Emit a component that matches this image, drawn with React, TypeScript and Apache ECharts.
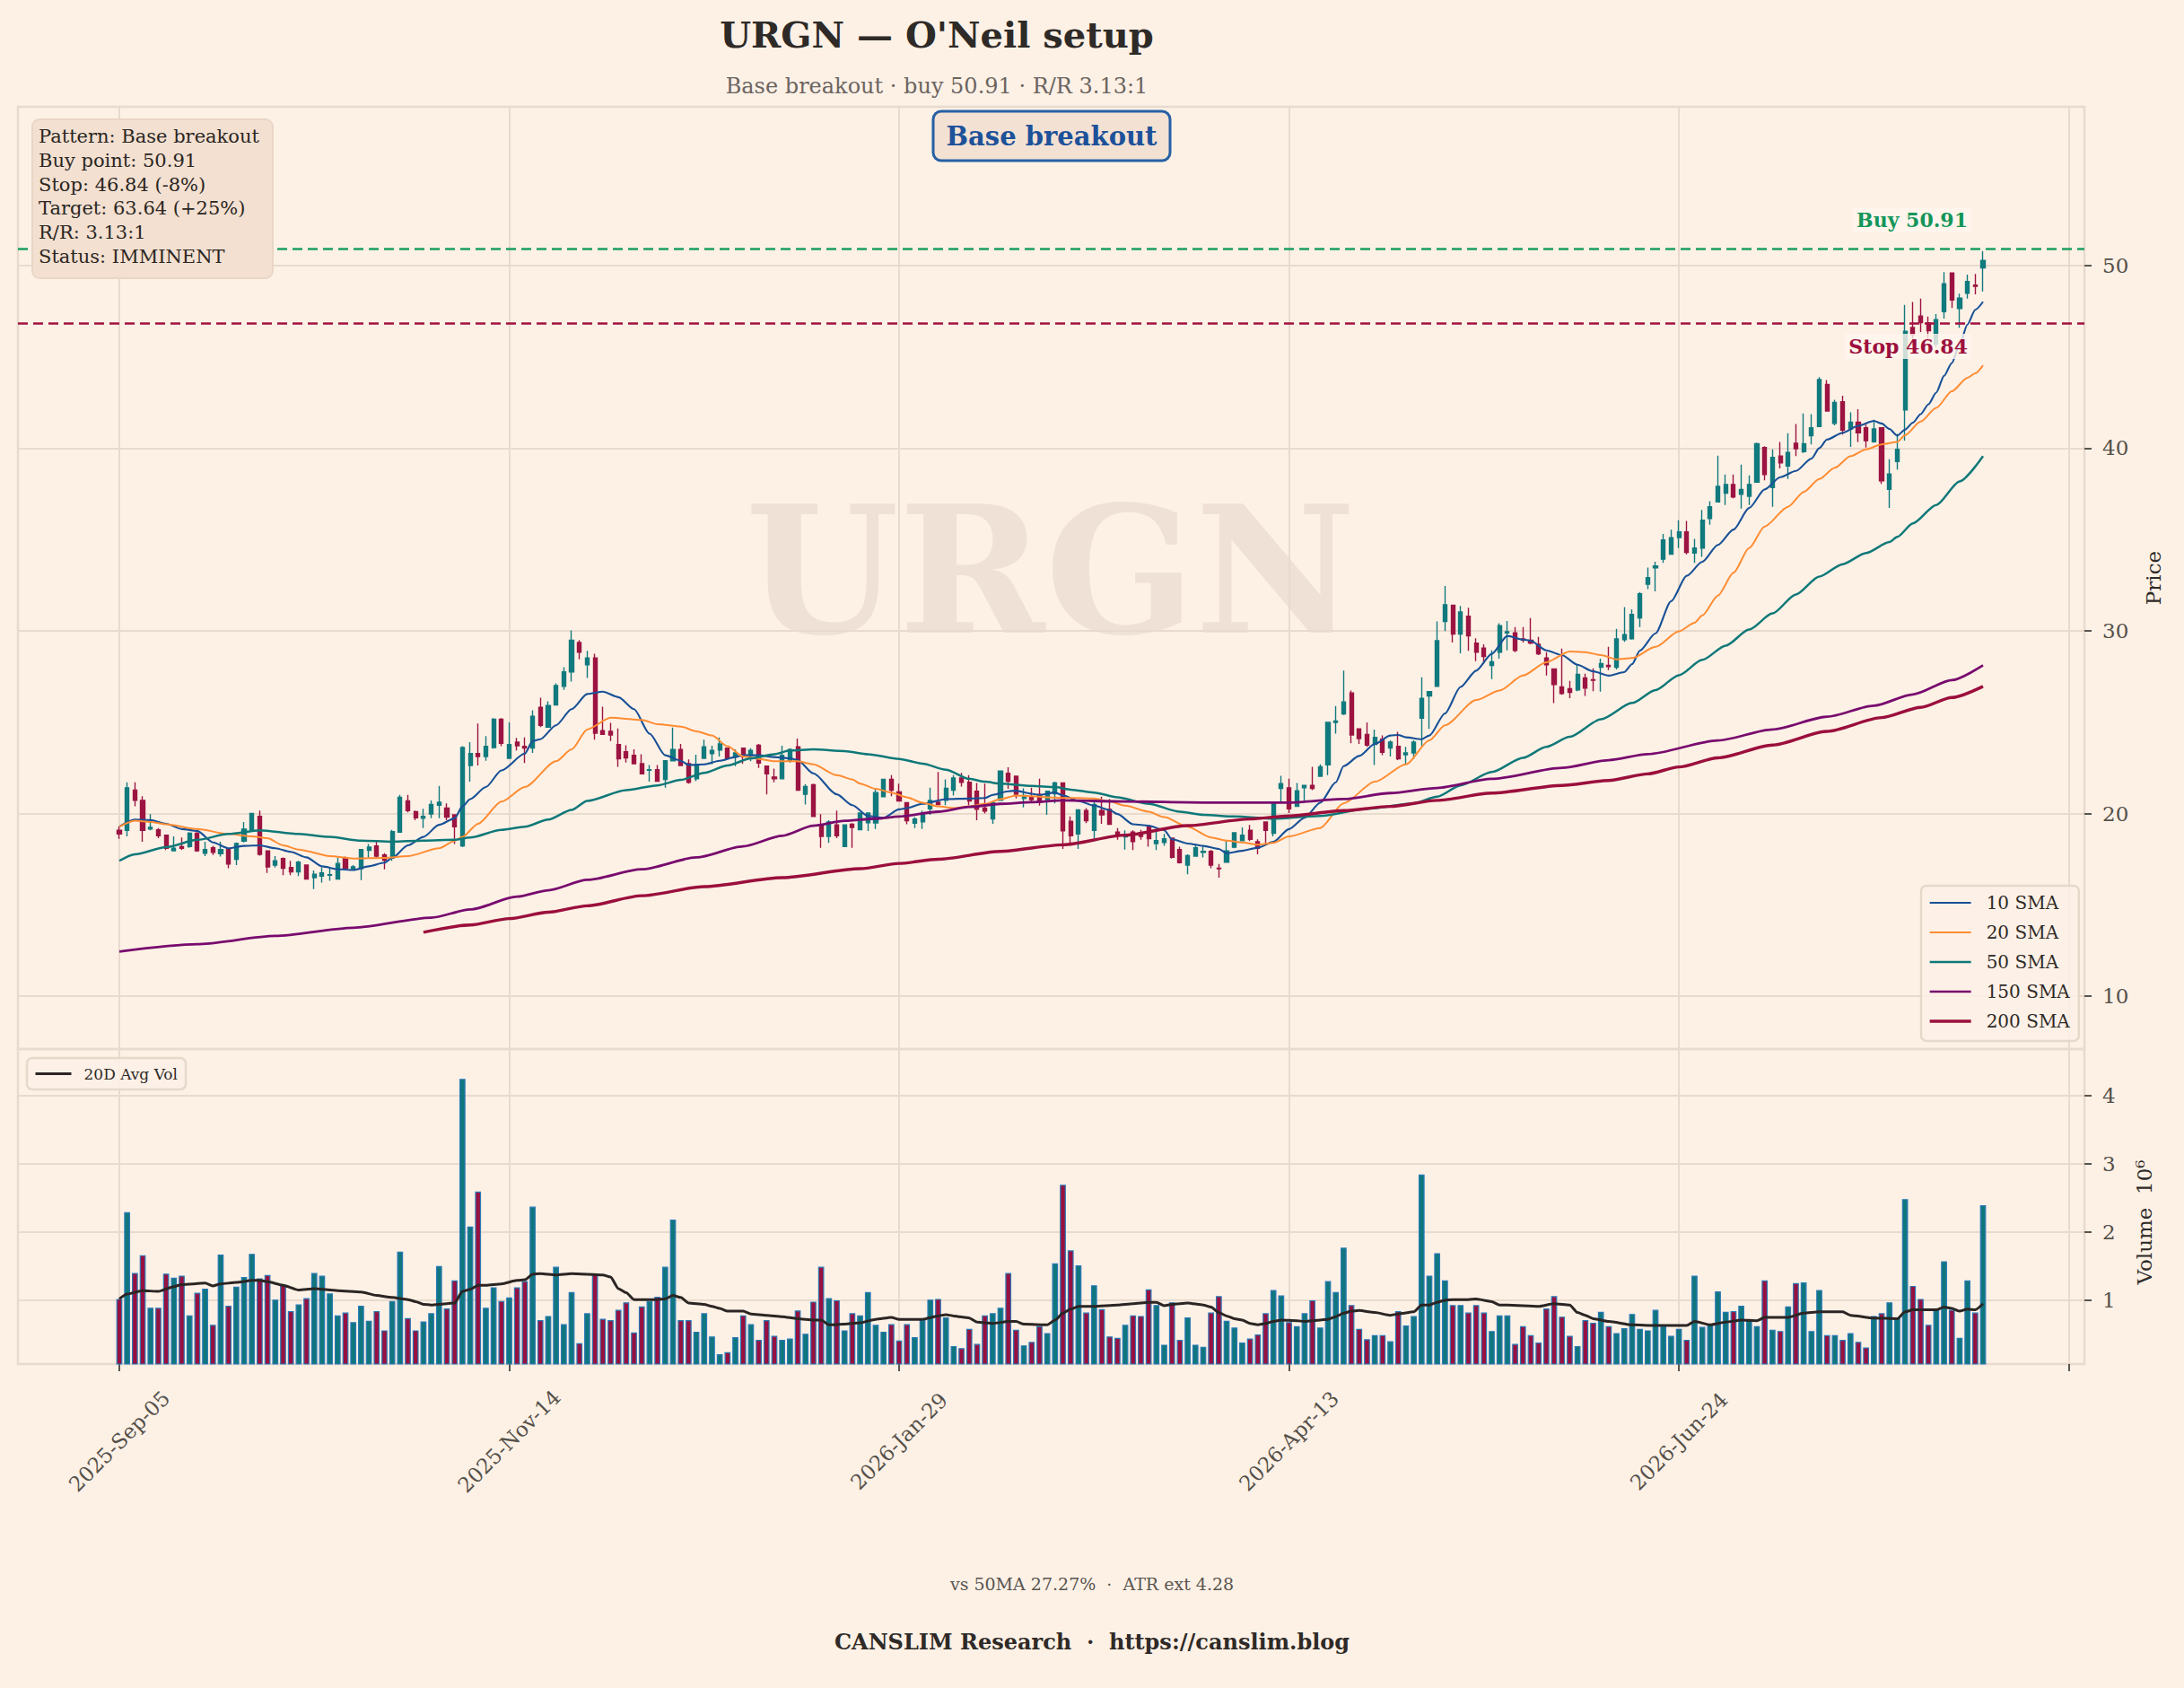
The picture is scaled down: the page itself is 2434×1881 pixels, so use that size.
import React, { useEffect, useRef } from 'react';
import * as echarts from 'echarts';

// ---------- data ----------
const TICK_BARS = [0, 50, 100, 150, 200];
const TICK_LABELS = ['2025-Sep-05', '2025-Nov-14', '2026-Jan-29', '2026-Apr-13', '2026-Jun-24'];

// one row per trading day: [open, high, low, close]
const OHLC: number[][] = [
  [19.08, 19.28, 18.62, 18.88], [19.08, 21.71, 18.75, 21.41], [21.28, 21.71, 20.39, 20.72], [20.72, 20.95, 18.46, 19.08], [19.15, 19.97, 19.08, 19.24],
  [19.11, 19.21, 18.65, 18.78], [18.82, 18.85, 18.0, 18.1], [17.96, 18.75, 17.93, 18.1], [18.19, 18.69, 18.0, 18.1], [18.19, 18.98, 18.13, 18.92],
  [18.92, 18.98, 17.9, 17.96], [17.83, 18.46, 17.67, 18.03], [18.13, 18.23, 17.73, 17.87], [17.8, 18.46, 17.64, 18.03], [18.03, 18.1, 17.01, 17.24],
  [17.5, 18.42, 17.18, 18.36], [18.49, 19.54, 18.42, 19.15], [19.11, 20.03, 19.08, 20.0], [19.84, 20.16, 17.7, 17.77], [17.96, 17.96, 16.75, 17.08],
  [17.18, 17.67, 17.04, 17.41], [17.54, 17.6, 16.62, 17.01], [17.04, 17.41, 16.62, 16.81], [16.81, 17.41, 16.58, 17.34], [17.18, 17.21, 16.39, 16.42],
  [16.49, 16.88, 15.86, 16.68], [16.58, 17.04, 16.22, 16.75], [16.62, 17.01, 16.32, 16.65], [16.42, 17.57, 16.42, 17.27], [17.57, 17.64, 16.98, 17.01],
  [16.98, 17.18, 16.91, 17.08], [16.98, 18.03, 16.36, 18.03], [17.99, 18.33, 17.57, 18.16], [18.23, 18.49, 17.6, 17.67], [17.73, 17.83, 16.95, 17.44],
  [17.57, 19.11, 17.41, 19.01], [18.98, 21.02, 18.95, 20.89], [20.69, 21.02, 20.07, 20.16], [20.1, 20.16, 19.64, 19.77], [19.74, 20.26, 19.21, 19.84],
  [19.97, 20.72, 19.74, 20.49], [20.46, 21.51, 19.74, 20.62], [20.3, 20.56, 19.64, 19.8], [19.93, 19.97, 18.33, 19.28], [18.23, 23.68, 18.16, 23.61],
  [22.63, 23.91, 21.74, 23.28], [23.28, 24.93, 22.63, 23.12], [23.12, 24.24, 22.89, 23.68], [23.61, 25.22, 23.55, 25.16], [25.16, 25.22, 23.68, 23.84],
  [23.02, 24.99, 23.02, 23.78], [23.91, 24.14, 23.45, 23.71], [23.68, 24.17, 22.76, 23.58], [23.58, 25.65, 23.32, 25.32], [25.81, 26.34, 24.73, 24.83],
  [24.73, 26.14, 24.7, 25.91], [25.94, 27.13, 25.91, 27.0], [26.96, 28.01, 26.77, 27.75], [27.75, 30.02, 27.22, 29.49], [29.36, 29.49, 28.44, 28.83],
  [28.14, 28.9, 27.42, 28.51], [28.51, 28.74, 24.04, 24.4], [24.53, 25.85, 24.33, 24.33], [24.5, 24.96, 23.97, 24.3], [23.78, 24.66, 22.56, 22.99],
  [23.38, 23.74, 22.79, 23.05], [23.19, 23.51, 22.69, 22.73], [22.73, 23.25, 22.17, 22.17], [22.37, 22.66, 21.74, 22.4], [22.4, 22.66, 21.77, 21.77],
  [21.87, 22.92, 21.41, 22.89], [22.89, 24.7, 22.86, 23.51], [23.51, 23.81, 22.59, 22.63], [22.73, 22.96, 21.64, 21.71], [21.9, 23.22, 21.77, 22.66],
  [23.02, 24.04, 22.99, 23.65], [23.28, 23.71, 22.69, 23.45], [23.48, 24.17, 23.12, 23.81], [23.58, 23.61, 22.99, 23.02], [23.09, 23.51, 22.59, 23.32],
  [23.58, 23.61, 22.73, 23.12], [23.19, 23.58, 22.86, 23.45], [23.74, 23.81, 22.5, 22.76], [22.59, 22.63, 21.05, 22.17], [22.0, 22.46, 21.71, 21.9],
  [21.9, 23.71, 21.87, 23.19], [22.89, 23.58, 22.79, 23.51], [23.65, 24.1, 21.28, 21.28], [21.05, 21.61, 20.49, 21.48], [21.58, 21.64, 19.8, 19.84],
  [19.38, 19.97, 18.13, 18.75], [18.75, 19.64, 18.39, 19.54], [19.38, 20.16, 18.65, 18.78], [18.19, 19.41, 18.16, 19.38], [19.41, 19.47, 18.13, 19.24],
  [19.11, 20.07, 19.08, 20.03], [19.5, 20.07, 19.05, 20.03], [19.49, 21.33, 19.15, 21.15], [20.92, 21.9, 20.89, 21.87], [21.87, 22.1, 20.95, 21.28],
  [21.18, 21.64, 20.69, 20.69], [20.59, 20.62, 19.41, 19.61], [19.47, 19.8, 19.21, 19.7], [19.54, 20.16, 19.15, 19.97], [20.26, 21.41, 19.93, 20.72],
  [20.62, 22.27, 20.46, 20.49], [20.72, 21.87, 20.46, 21.38], [21.28, 22.1, 20.99, 21.94], [21.94, 22.23, 21.48, 21.71], [21.71, 22.1, 20.46, 20.69],
  [21.22, 21.67, 19.64, 20.23], [20.3, 21.64, 20.0, 20.13], [19.7, 20.62, 19.44, 20.59], [20.72, 22.36, 20.69, 22.33], [22.2, 22.53, 21.35, 21.77],
  [22.04, 22.07, 20.82, 21.05], [20.82, 21.38, 20.33, 20.99], [20.92, 21.41, 20.66, 20.76], [21.05, 21.9, 20.43, 20.62], [20.76, 21.25, 19.93, 21.22],
  [21.08, 21.74, 20.56, 21.67], [21.67, 21.71, 18.06, 19.05], [19.57, 19.84, 18.36, 18.78], [18.88, 20.23, 18.06, 20.2], [20.16, 20.3, 19.47, 19.61],
  [19.08, 20.69, 18.65, 20.49], [20.16, 20.92, 19.44, 19.93], [20.23, 20.79, 19.38, 19.41], [18.98, 19.21, 18.56, 18.78], [18.72, 19.08, 18.03, 18.82],
  [18.98, 19.08, 18.0, 18.46], [18.95, 19.11, 18.56, 18.75], [19.28, 19.34, 18.19, 18.62], [18.36, 19.01, 18.0, 18.52], [18.42, 18.88, 18.23, 18.62],
  [18.65, 18.69, 17.54, 17.6], [18.03, 18.19, 17.27, 17.31], [17.18, 17.77, 16.68, 17.7], [17.67, 18.33, 17.64, 18.13], [17.87, 18.19, 17.6, 17.93],
  [17.93, 18.0, 17.01, 17.18], [17.01, 17.24, 16.49, 16.98], [17.34, 18.49, 17.34, 17.96], [18.16, 18.98, 18.1, 18.95], [18.52, 19.24, 18.49, 18.82],
  [19.08, 19.38, 18.49, 18.59], [18.46, 18.59, 17.77, 18.1], [19.54, 19.57, 18.26, 19.08], [18.92, 20.56, 18.75, 20.53], [21.38, 22.07, 20.62, 21.64],
  [21.41, 21.9, 20.03, 20.26], [20.39, 21.67, 20.36, 21.25], [21.41, 21.58, 20.72, 21.54], [21.54, 22.56, 21.28, 21.38], [22.04, 22.69, 22.0, 22.56],
  [22.66, 24.99, 22.1, 24.99], [24.99, 25.88, 24.37, 25.06], [25.45, 27.82, 25.39, 26.11], [26.6, 26.73, 23.84, 24.3], [24.63, 24.63, 23.81, 24.1],
  [24.33, 24.99, 23.65, 23.74], [23.78, 24.6, 22.66, 24.17], [24.07, 24.27, 23.19, 23.35], [23.58, 24.01, 23.12, 23.91], [23.68, 24.47, 22.92, 22.99],
  [23.22, 23.65, 22.69, 23.32], [23.32, 24.01, 22.99, 23.91], [25.22, 27.45, 23.68, 26.31], [26.44, 26.7, 24.63, 26.67], [26.96, 30.51, 26.96, 29.46],
  [30.51, 32.45, 29.98, 31.43], [31.4, 31.4, 29.36, 29.82], [29.82, 31.36, 28.77, 31.03], [30.8, 31.26, 28.9, 29.72], [29.33, 29.59, 28.34, 28.83],
  [29.06, 29.26, 28.21, 28.6], [28.11, 28.93, 27.36, 28.31], [28.83, 30.41, 28.47, 30.28], [29.89, 30.54, 28.93, 29.95], [29.89, 30.21, 28.83, 28.93],
  [29.56, 30.21, 29.36, 29.49], [29.49, 30.7, 29.26, 29.33], [29.26, 29.66, 28.67, 28.74], [28.51, 28.83, 27.55, 28.14], [27.91, 27.95, 26.04, 27.06],
  [26.93, 29.03, 26.5, 26.57], [26.83, 27.26, 26.31, 26.63], [26.77, 28.14, 26.7, 27.62], [27.42, 27.65, 26.44, 26.86], [27.32, 27.95, 26.7, 27.29],
  [28.01, 28.47, 26.67, 28.21], [28.11, 29.13, 27.85, 28.04], [28.01, 30.11, 27.88, 29.56], [29.52, 31.3, 29.39, 29.79], [29.56, 31.17, 29.52, 30.9],
  [30.71, 32.12, 30.21, 32.02], [32.55, 33.46, 32.28, 32.91], [33.45, 33.78, 32.16, 33.55], [33.92, 35.3, 33.72, 34.97], [34.19, 35.54, 34.19, 35.1],
  [35.1, 36.05, 34.53, 35.41], [35.41, 36.01, 34.19, 34.29], [34.26, 35.03, 33.72, 34.53], [34.53, 36.62, 34.05, 36.05], [36.15, 37.09, 35.81, 36.79],
  [37.06, 39.59, 37.06, 37.91], [37.53, 38.55, 36.89, 38.01], [38.01, 38.55, 37.26, 37.33], [37.47, 39.09, 36.69, 37.74], [37.36, 38.51, 36.89, 38.01],
  [38.14, 40.3, 38.11, 40.24], [40.03, 40.1, 38.24, 38.55], [37.84, 39.93, 36.79, 39.49], [39.56, 40.34, 38.89, 39.19], [39.02, 40.81, 38.31, 39.76],
  [40.27, 41.32, 39.56, 39.97], [39.8, 41.89, 39.73, 40.24], [40.68, 41.86, 40.2, 41.11], [41.18, 43.89, 41.15, 43.75], [43.48, 43.72, 41.99, 42.03],
  [41.35, 42.64, 41.25, 42.5], [42.53, 42.87, 40.74, 40.98], [41.05, 41.96, 40.07, 41.42], [41.42, 42.13, 40.34, 40.84], [41.11, 41.28, 40.03, 40.41],
  [40.34, 41.55, 40.3, 41.05], [41.11, 41.15, 38.04, 38.21], [37.74, 39.39, 36.72, 38.58], [39.26, 40.78, 38.82, 39.93], [42.09, 47.84, 40.41, 46.39],
  [46.6, 48.0, 45.6, 46.2], [47.23, 48.18, 46.35, 46.86], [46.86, 47.2, 45.9, 46.42], [45.7, 47.33, 45.5, 47.03], [47.47, 49.63, 47.09, 48.99],
  [49.59, 49.59, 47.67, 48.11], [47.64, 48.45, 46.59, 48.21], [48.48, 49.49, 48.18, 49.12], [48.92, 49.53, 48.41, 48.85], [49.86, 50.78, 48.58, 50.27],
];

// daily volume, millions of shares
const VOLUME_M: number[] = [
  1.02, 2.29, 1.4, 1.66, 0.89, 0.89, 1.39, 1.33, 1.36, 0.78, 1.11, 1.17, 0.64, 1.67, 0.92, 1.2, 1.34, 1.68, 1.32, 1.37,
  1.01, 1.23, 0.84, 0.94, 1.03, 1.4, 1.36, 1.1, 0.78, 0.82, 0.68, 0.92, 0.7, 0.84, 0.56, 0.99, 1.71, 0.74, 0.56, 0.69,
  0.81, 1.5, 0.88, 1.29, 4.24, 2.08, 2.59, 0.89, 1.19, 0.99, 1.04, 1.19, 1.28, 2.37, 0.71, 0.77, 1.49, 0.65, 1.12, 0.37,
  0.81, 1.39, 0.73, 0.71, 0.86, 0.97, 0.53, 0.91, 0.99, 1.05, 1.49, 2.18, 0.71, 0.71, 0.54, 0.81, 0.47, 0.21, 0.24, 0.46,
  0.78, 0.65, 0.42, 0.71, 0.48, 0.42, 0.44, 0.85, 0.51, 0.98, 1.49, 1.03, 1.0, 0.56, 0.81, 0.78, 1.12, 0.64, 0.54, 0.65,
  0.41, 0.65, 0.46, 0.71, 1.01, 1.02, 0.75, 0.33, 0.3, 0.58, 0.36, 0.78, 0.81, 0.89, 1.4, 0.57, 0.34, 0.39, 0.62, 0.52,
  1.54, 2.69, 1.73, 1.51, 0.82, 1.22, 0.87, 0.47, 0.45, 0.64, 0.78, 0.77, 1.16, 0.93, 0.35, 0.97, 0.42, 0.75, 0.35, 0.32,
  0.82, 1.06, 0.7, 0.6, 0.38, 0.44, 0.5, 0.81, 1.15, 1.07, 0.68, 0.62, 0.81, 1.0, 0.6, 1.28, 1.12, 1.77, 0.93, 0.58,
  0.43, 0.49, 0.49, 0.4, 0.84, 0.63, 0.77, 2.84, 1.36, 1.69, 1.29, 0.93, 0.93, 0.82, 0.93, 0.82, 0.55, 0.78, 0.78, 0.36,
  0.62, 0.49, 0.38, 0.88, 1.06, 0.76, 0.48, 0.33, 0.71, 0.67, 0.83, 0.62, 0.52, 0.59, 0.8, 0.58, 0.56, 0.86, 0.62, 0.48,
  0.58, 0.42, 1.36, 0.61, 0.64, 1.13, 0.83, 0.84, 0.92, 0.71, 0.62, 1.29, 0.57, 0.55, 0.91, 1.25, 1.26, 0.55, 1.15, 0.49,
  0.49, 0.42, 0.52, 0.39, 0.31, 0.77, 0.81, 0.97, 0.74, 2.48, 1.21, 1.02, 0.64, 0.88, 1.57, 0.86, 0.45, 1.29, 0.82, 2.39,
];

// moving averages: [bar index, value]
const SMA10: number[][] = [
  [0, 19.28], [2, 19.67], [4, 19.64], [6, 19.44], [8, 19.15], [10, 19.05], [12, 18.42], [14, 18.1], [16, 18.23], [18, 18.26],
  [20, 18.1], [22, 17.9], [24, 17.6], [26, 17.11], [28, 16.96], [30, 16.91], [32, 17.11], [34, 17.31], [35, 17.57], [37, 18.26],
  [39, 18.72], [41, 19.38], [43, 19.74], [44, 20.39], [45, 20.79], [47, 21.45], [49, 22.36], [52, 23.28], [53, 23.97], [54, 24.07],
  [56, 24.83], [58, 25.71], [60, 26.54], [62, 26.67], [64, 26.37], [66, 25.71], [68, 24.37], [70, 23.19], [72, 22.89], [73, 22.66],
  [75, 22.69], [77, 22.89], [79, 23.09], [80, 23.19], [82, 23.19], [84, 23.09], [86, 23.02], [87, 22.92], [89, 22.2], [92, 21.05],
  [94, 20.46], [96, 19.87], [98, 19.77], [100, 20.23], [101, 20.3], [103, 20.53], [106, 20.79], [109, 20.82], [111, 20.85], [112, 21.02],
  [114, 21.22], [115, 21.25], [117, 21.08], [118, 21.02], [120, 21.15], [121, 20.99], [123, 20.69], [125, 20.43], [127, 20.2], [128, 19.97],
  [130, 19.41], [132, 19.34], [134, 19.08], [135, 18.59], [137, 18.36], [139, 18.23], [141, 18.06], [142, 17.83], [144, 17.96], [146, 18.13],
  [148, 18.45], [150, 19.15], [152, 19.77], [154, 20.59], [156, 21.71], [157, 22.59], [159, 23.15], [161, 23.81], [163, 24.27], [164, 24.3],
  [165, 24.17], [167, 24.07], [168, 24.27], [170, 25.48], [172, 26.93], [174, 27.82], [176, 28.74], [178, 29.72], [180, 29.52], [181, 29.46],
  [183, 28.93], [185, 28.67], [187, 28.14], [189, 27.78], [191, 27.55], [193, 27.74], [194, 28.18], [195, 28.92], [197, 29.86], [199, 31.62],
  [201, 33.01], [203, 33.78], [205, 34.7], [207, 35.54], [209, 36.72], [211, 37.74], [213, 38.41], [215, 38.75], [217, 39.43], [218, 40.0],
  [219, 40.47], [221, 40.84], [223, 41.22], [225, 41.49], [226, 41.35], [227, 41.05], [228, 40.68], [229, 41.01], [230, 41.39], [231, 41.86],
  [232, 42.4], [233, 43.04], [234, 43.95], [235, 44.66], [236, 45.68], [237, 46.76], [238, 47.57], [239, 48.01],
];
const SMA20: number[][] = [
  [0, 19.28], [2, 19.61], [4, 19.54], [6, 19.41], [10, 19.15], [14, 18.88], [17, 18.75], [19, 18.65], [21, 18.26], [23, 18.03],
  [27, 17.67], [30, 17.54], [34, 17.57], [37, 17.67], [41, 18.1], [43, 18.51], [44, 18.72], [46, 19.44], [49, 20.65], [52, 21.45],
  [56, 22.86], [58, 23.51], [60, 24.6], [63, 25.25], [67, 25.12], [69, 24.89], [72, 24.76], [74, 24.5], [76, 24.27], [78, 23.68],
  [80, 23.12], [82, 22.99], [84, 22.86], [87, 22.86], [89, 22.69], [92, 22.1], [94, 21.87], [95, 21.64], [97, 21.35], [99, 21.15],
  [101, 20.89], [103, 20.59], [105, 20.39], [107, 20.3], [109, 20.39], [111, 20.53], [113, 20.79], [115, 20.99], [117, 20.95], [119, 20.89],
  [121, 20.85], [123, 20.85], [125, 20.82], [127, 20.66], [129, 20.43], [132, 20.1], [134, 19.8], [137, 19.28], [140, 18.69], [142, 18.52],
  [144, 18.42], [146, 18.3], [148, 18.4], [150, 18.75], [154, 19.21], [157, 20.56], [161, 21.74], [165, 22.69], [168, 24.01], [170, 24.83],
  [174, 26.21], [177, 26.73], [180, 27.55], [183, 28.28], [186, 28.87], [188, 28.83], [190, 28.67], [192, 28.44], [194, 28.51], [197, 29.12],
  [200, 29.97], [202, 30.44], [203, 30.84], [205, 31.93], [207, 33.18], [209, 34.53], [211, 35.71], [214, 36.79], [216, 37.6], [218, 38.31],
  [220, 38.92], [222, 39.56], [224, 39.93], [226, 40.2], [228, 40.34], [229, 40.71], [231, 41.45], [233, 42.2], [235, 43.11], [237, 43.85],
  [238, 44.09], [239, 44.53],
];
const SMA50: number[][] = [
  [0, 17.41], [2, 17.77], [6, 18.16], [10, 18.56], [14, 18.88], [18, 19.08], [23, 18.88], [27, 18.72], [31, 18.52], [35, 18.46],
  [39, 18.52], [43, 18.56], [45, 18.69], [49, 19.11], [52, 19.28], [55, 19.67], [58, 20.2], [60, 20.69], [65, 21.28], [69, 21.54],
  [72, 21.84], [75, 22.23], [78, 22.63], [81, 23.02], [84, 23.25], [86, 23.45], [89, 23.51], [93, 23.42], [96, 23.25], [100, 22.99],
  [103, 22.73], [106, 22.4], [109, 21.9], [111, 21.74], [113, 21.64], [117, 21.51], [120, 21.45], [122, 21.31], [125, 21.15], [128, 20.89],
  [132, 20.53], [136, 20.1], [139, 19.93], [143, 19.84], [148, 19.72], [154, 19.87], [160, 20.26], [166, 20.56], [169, 20.92], [172, 21.54],
  [176, 22.27], [180, 23.05], [183, 23.65], [186, 24.2], [190, 25.16], [194, 26.05], [197, 26.76], [200, 27.57], [203, 28.41], [206, 29.19],
  [209, 30.07], [212, 30.95], [215, 31.99], [218, 32.97], [221, 33.65], [224, 34.26], [227, 34.86], [228, 35.14], [230, 35.88], [233, 36.89],
  [236, 38.18], [239, 39.56],
];
const SMA150: number[][] = [
  [0, 12.45], [10, 12.85], [20, 13.3], [30, 13.75], [40, 14.3], [45, 14.75], [51, 15.45], [55, 15.8], [60, 16.37], [67, 16.95],
  [74, 17.6], [80, 18.2], [85, 18.78], [89, 19.33], [93, 19.6], [97, 19.72], [100, 19.84], [105, 20.1], [109, 20.36], [113, 20.53],
  [117, 20.62], [121, 20.72], [129, 20.66], [139, 20.6], [150, 20.6], [157, 20.79], [163, 21.12], [169, 21.4], [176, 21.9], [185, 22.5],
  [191, 22.92], [196, 23.25], [205, 24.0], [212, 24.6], [219, 25.3], [225, 25.9], [230, 26.52], [235, 27.3], [239, 28.11],
];
const SMA200: number[][] = [
  [39, 13.5], [45, 13.9], [50, 14.25], [55, 14.6], [60, 14.95], [67, 15.5], [75, 16.0], [85, 16.49], [95, 16.98], [100, 17.27],
  [105, 17.5], [113, 17.93], [121, 18.29], [129, 18.82], [137, 19.34], [145, 19.7], [150, 19.87], [157, 20.16], [163, 20.39], [169, 20.72],
  [176, 21.12], [185, 21.54], [191, 21.81], [196, 22.17], [200, 22.55], [205, 23.05], [212, 23.75], [219, 24.5], [226, 25.25], [231, 25.81],
  [235, 26.35], [239, 26.96],
];
const AVG_VOL20: number[][] = [
  [0, 1.02], [1, 1.09], [3, 1.14], [5, 1.13], [7, 1.2], [8, 1.23], [11, 1.25], [12, 1.21], [13, 1.24], [15, 1.26],
  [17, 1.29], [18, 1.29], [19, 1.27], [21, 1.22], [23, 1.15], [25, 1.17], [28, 1.14], [31, 1.12], [33, 1.07], [35, 1.04],
  [37, 1.01], [38, 0.98], [39, 0.94], [40, 0.93], [42, 0.95], [43, 0.96], [44, 1.13], [45, 1.16], [46, 1.22], [47, 1.22],
  [49, 1.24], [51, 1.29], [52, 1.3], [53, 1.38], [54, 1.39], [56, 1.37], [58, 1.39], [62, 1.37], [63, 1.34], [64, 1.17],
  [65, 1.11], [66, 1.01], [69, 1.01], [70, 1.02], [71, 1.07], [72, 1.04], [73, 0.96], [75, 0.94], [76, 0.91], [77, 0.88],
  [78, 0.84], [80, 0.84], [81, 0.8], [83, 0.78], [85, 0.76], [87, 0.73], [89, 0.71], [90, 0.71], [91, 0.64], [93, 0.65],
  [95, 0.67], [97, 0.72], [99, 0.75], [100, 0.72], [103, 0.72], [105, 0.77], [106, 0.79], [107, 0.77], [109, 0.74], [110, 0.68],
  [112, 0.66], [114, 0.69], [115, 0.69], [116, 0.65], [119, 0.64], [120, 0.71], [121, 0.81], [122, 0.87], [123, 0.91], [125, 0.91],
  [128, 0.93], [130, 0.95], [132, 0.97], [133, 0.97], [134, 0.92], [135, 0.94], [137, 0.96], [139, 0.93], [140, 0.9], [141, 0.82],
  [142, 0.77], [143, 0.73], [144, 0.71], [145, 0.66], [146, 0.64], [147, 0.66], [148, 0.69], [149, 0.71], [151, 0.7], [152, 0.69],
  [154, 0.71], [155, 0.72], [156, 0.76], [157, 0.81], [158, 0.84], [159, 0.85], [161, 0.82], [163, 0.78], [164, 0.8], [166, 0.83],
  [167, 0.93], [168, 0.93], [169, 0.97], [170, 1.0], [171, 1.01], [173, 1.01], [174, 1.02], [175, 1.0], [176, 0.98], [177, 0.93],
  [178, 0.93], [182, 0.91], [184, 0.95], [186, 0.93], [187, 0.82], [188, 0.78], [189, 0.73], [191, 0.69], [194, 0.64], [197, 0.63],
  [201, 0.63], [202, 0.69], [204, 0.64], [206, 0.68], [208, 0.71], [210, 0.7], [211, 0.75], [214, 0.75], [216, 0.81], [218, 0.83],
  [221, 0.83], [222, 0.78], [225, 0.74], [228, 0.73], [229, 0.83], [230, 0.86], [233, 0.86], [234, 0.9], [235, 0.88], [236, 0.84],
  [237, 0.87], [238, 0.86], [239, 0.95],
];

const PRICE_TICKS = [10, 20, 30, 40, 50];
const VOLUME_TICKS = [1, 2, 3, 4];
const BUY_POINT = 50.91;
const STOP = 46.84;
const LABEL_BAR = 237.5;
const INFO_LINES = [
  'Pattern: Base breakout',
  'Buy point: 50.91',
  'Stop: 46.84 (-8%)',
  'Target: 63.64 (+25%)',
  'R/R: 3.13:1',
  'Status: IMMINENT',
];
const TITLE = "URGN \u2014 O'Neil setup";
const SUBTITLE = 'Base breakout \u00b7 buy 50.91 \u00b7 R/R 3.13:1';
const FOOT_1 = 'vs 50MA 27.27%  \u00b7  ATR ext 4.28';
const FOOT_2 = 'CANSLIM Research  \u00b7  https://canslim.blog';

// ---------- style ----------
const FONT = "'DejaVu Serif', 'Liberation Serif', serif";
const BG = '#fdf1e6';
const GRIDC = '#e8dacd';
const UP = '#117a7e';
const DOWN = '#9c1442';
const VUP = '#10767e';
const VDOWN = '#981040';
const AXIS_TXT = '#555049';
const TICKC = '#5a5550';

const SMA_DEFS = [
  { name: '10 SMA', data: SMA10, color: '#185096', width: 2.1, legendWidth: 2.2 },
  { name: '20 SMA', data: SMA20, color: '#ff8c32', width: 2.0, legendWidth: 2.2 },
  { name: '50 SMA', data: SMA50, color: '#0f7878', width: 2.5, legendWidth: 2.5 },
  { name: '150 SMA', data: SMA150, color: '#780a6e', width: 2.8, legendWidth: 2.7 },
  { name: '200 SMA', data: SMA200, color: '#9b0f3c', width: 3.4, legendWidth: 3.3 },
];

function buildOption() {
  const smaSeries = SMA_DEFS.map((s) => ({
    type: 'line',
    name: s.name,
    xAxisIndex: 0,
    yAxisIndex: 0,
    data: s.data,
    symbol: 'none',
    showSymbol: false,
    smooth: 0.25,
    smoothMonotone: 'x',
    lineStyle: { color: s.color, width: s.width },
    itemStyle: { color: s.color },
    z: 3,
    silent: true,
  }));

  const levelLabel = (text: string, color: string, dy: number) => ({
    show: true,
    position: 'left',
    distance: 0,
    offset: [0, dy],
    formatter: text,
    color,
    fontFamily: FONT,
    fontWeight: 'bold',
    fontSize: 22,
    backgroundColor: 'rgba(255,246,238,0.8)',
    padding: [3, 4, 3, 4],
  });

  const xSplit = { show: true, lineStyle: { color: GRIDC, width: 2 } };
  const ySplit = { show: true, lineStyle: { color: GRIDC, width: 2 } };
  const hiddenSymbol = { color: 'rgba(0,0,0,0)', borderColor: 'rgba(0,0,0,0)', borderWidth: 0 };

  return {
    animation: false,
    backgroundColor: BG,
    textStyle: { fontFamily: FONT },
    grid: [
      { left: 20, top: 119, width: 2303, height: 1050, show: true, borderColor: GRIDC, borderWidth: 2.5, backgroundColor: 'rgba(0,0,0,0)' },
      { left: 20, top: 1169, width: 2303, height: 351, show: true, borderColor: GRIDC, borderWidth: 2.5, backgroundColor: 'rgba(0,0,0,0)' },
    ],
    xAxis: [
      {
        type: 'value', gridIndex: 0, min: -13, max: 252, splitNumber: 5,
        axisLine: { show: false, onZero: false }, axisTick: { show: false }, axisLabel: { show: false }, splitLine: xSplit,
      },
      {
        type: 'value', gridIndex: 1, min: -13, max: 252, splitNumber: 5,
        axisLine: { show: false, onZero: false },
        axisTick: { show: true, length: 8, customValues: [0, 50, 100, 150, 200, 250], lineStyle: { color: TICKC, width: 2 } },
        axisLabel: {
          show: true,
          customValues: TICK_BARS,
          formatter: (v: number) => {
            const k = TICK_BARS.findIndex((t) => Math.abs(t - v) < 1e-6);
            return k >= 0 ? TICK_LABELS[k] : '';
          },
          rotate: 45,
          align: 'center',
          verticalAlign: 'middle',
          margin: 86,
          fontSize: 23,
          color: AXIS_TXT,
          fontFamily: FONT,
        },
        splitLine: xSplit,
      },
    ],
    yAxis: [
      {
        type: 'value', gridIndex: 0, position: 'right', min: 7.11, max: 58.68, splitNumber: 5,
        axisLine: { show: false, onZero: false },
        axisTick: { show: true, length: 8, customValues: PRICE_TICKS, lineStyle: { color: TICKC, width: 2 } },
        axisLabel: {
          customValues: PRICE_TICKS,
          formatter: (v: number) => (PRICE_TICKS.some((t) => Math.abs(t - v) < 1e-6) ? String(Math.round(v)) : ''),
          margin: 20, fontSize: 23, color: AXIS_TXT, fontFamily: FONT,
        },
        splitLine: ySplit,
      },
      {
        type: 'value', gridIndex: 1, position: 'right', min: 0.066, max: 4.677, splitNumber: 5,
        axisLine: { show: false, onZero: false },
        axisTick: { show: true, length: 8, customValues: VOLUME_TICKS, lineStyle: { color: TICKC, width: 2 } },
        axisLabel: {
          customValues: VOLUME_TICKS,
          formatter: (v: number) => (VOLUME_TICKS.some((t) => Math.abs(t - v) < 1e-6) ? String(Math.round(v)) : ''),
          margin: 20, fontSize: 23, color: AXIS_TXT, fontFamily: FONT,
        },
        splitLine: ySplit,
      },
    ],
    legend: [
      {
        data: SMA_DEFS.map((s) => ({ name: s.name, lineStyle: { color: s.color, width: s.legendWidth }, itemStyle: hiddenSymbol })),
        orient: 'vertical',
        left: 2141,
        top: 987,
        itemWidth: 46,
        itemHeight: 4,
        itemGap: 13,
        padding: [9, 10, 12, 8],
        backgroundColor: 'rgba(253,241,230,0.85)',
        borderColor: '#e6d8cb',
        borderWidth: 2.5,
        borderRadius: 6,
        selectedMode: false,
        itemStyle: hiddenSymbol,
        textStyle: { fontSize: 20, color: '#2f2a27', fontFamily: FONT, lineHeight: 20, padding: [0, 0, 0, 12] },
      },
      {
        data: [{ name: '20D Avg Vol', lineStyle: { color: '#2b2523', width: 3 }, itemStyle: hiddenSymbol }],
        orient: 'vertical',
        left: 30,
        top: 1179,
        itemWidth: 40,
        itemHeight: 4,
        padding: [9, 9, 9, 8],
        backgroundColor: 'rgba(253,241,230,0.85)',
        borderColor: '#e6d8cb',
        borderWidth: 2.5,
        borderRadius: 6,
        selectedMode: false,
        itemStyle: hiddenSymbol,
        textStyle: { fontSize: 17, color: '#2f2a27', fontFamily: FONT, lineHeight: 17, padding: [0, 0, 0, 9] },
      },
    ],
    series: [
      {
        type: 'candlestick',
        name: 'URGN',
        xAxisIndex: 0,
        yAxisIndex: 0,
        data: OHLC.map(([o, h, l, c], i) => [i, o, c, l, h]),
        encode: { x: 0, y: [1, 2, 3, 4] },
        barWidth: 4.6,
        itemStyle: { color: UP, color0: DOWN, borderColor: UP, borderColor0: DOWN, borderWidth: 1.4 },
        z: 2,
        silent: true,
        markLine: {
          silent: true,
          symbol: ['none', 'none'],
          label: { show: false },
          data: [
            { yAxis: BUY_POINT, lineStyle: { color: '#1b9e5e', width: 2.7, type: [11, 6] } },
            { yAxis: STOP, lineStyle: { color: '#a3123f', width: 2.7, type: [11, 6] } },
          ],
          z: 5,
        },
        markPoint: {
          silent: true,
          symbol: 'circle',
          symbolSize: 0,
          z: 6,
          data: [
            { coord: [LABEL_BAR, BUY_POINT], label: levelLabel('Buy ' + BUY_POINT.toFixed(2), '#13955a', -32) },
            { coord: [LABEL_BAR, STOP], label: levelLabel('Stop ' + STOP.toFixed(2), '#9c0f3d', 26) },
          ],
        },
      },
      ...smaSeries,
      {
        type: 'bar',
        name: 'Volume',
        xAxisIndex: 1,
        yAxisIndex: 1,
        data: VOLUME_M.map((v, i) => ({
          value: [i, v],
          itemStyle: { color: OHLC[i][3] >= OHLC[i][0] ? VUP : VDOWN },
        })),
        barWidth: 6.7,
        itemStyle: { borderColor: '#2a79b5', borderWidth: 1.2 },
        z: 2,
        silent: true,
      },
      {
        type: 'line',
        name: '20D Avg Vol',
        xAxisIndex: 1,
        yAxisIndex: 1,
        data: AVG_VOL20,
        symbol: 'none',
        showSymbol: false,
        smooth: 0.2,
        smoothMonotone: 'x',
        lineStyle: { color: '#2b2523', width: 3 },
        itemStyle: { color: '#2b2523' },
        z: 4,
        silent: true,
      },
    ],
    graphic: [
      {
        type: 'text', x: 1171, y: 636, z: -1, silent: true,
        style: { text: 'URGN', fill: '#efe1d5', font: `bold 196px ${FONT}`, align: 'center', verticalAlign: 'middle', textAlign: 'center', textVerticalAlign: 'middle' },
      },
      {
        type: 'text', x: 1044, y: 38, z: 10,
        style: { text: TITLE, fill: '#2e2a27', font: `bold 40px ${FONT}`, align: 'center', verticalAlign: 'middle', textAlign: 'center', textVerticalAlign: 'middle' },
      },
      {
        type: 'text', x: 1044, y: 96, z: 10,
        style: { text: SUBTITLE, fill: '#6b6460', font: `24px ${FONT}`, align: 'center', verticalAlign: 'middle', textAlign: 'center', textVerticalAlign: 'middle' },
      },
      {
        type: 'rect', z: 10,
        shape: { x: 36, y: 133, width: 268, height: 177, r: 8 },
        style: { fill: '#f3e0d1', stroke: '#e9d6c6', lineWidth: 2 },
      },
      {
        type: 'text', x: 43, y: 139, z: 11,
        style: { text: INFO_LINES.join('\n'), fill: '#2b2622', font: `21px ${FONT}`, lineHeight: 26.7, align: 'left', verticalAlign: 'top', textAlign: 'left', textVerticalAlign: 'top' },
      },
      {
        type: 'rect', z: 10,
        shape: { x: 1040, y: 124, width: 264, height: 55, r: 9 },
        style: { fill: '#f3e1d3', stroke: '#2660a4', lineWidth: 3 },
      },
      {
        type: 'text', x: 1172, y: 151.5, z: 11,
        style: { text: 'Base breakout', fill: '#1d5199', font: `bold 29px ${FONT}`, align: 'center', verticalAlign: 'middle', textAlign: 'center', textVerticalAlign: 'middle' },
      },
      {
        type: 'text', x: 2400, y: 644, rotation: Math.PI / 2, z: 10,
        style: { text: 'Price', fill: '#2f2a27', font: `23px ${FONT}`, align: 'center', verticalAlign: 'middle', textAlign: 'center', textVerticalAlign: 'middle' },
      },
      {
        type: 'text', x: 2390, y: 1362, rotation: Math.PI / 2, z: 10,
        style: { text: 'Volume  10\u2076', fill: '#2f2a27', font: `23px ${FONT}`, align: 'center', verticalAlign: 'middle', textAlign: 'center', textVerticalAlign: 'middle' },
      },
      {
        type: 'text', x: 1217, y: 1765, z: 10,
        style: { text: FOOT_1, fill: '#5a5550', font: `19px ${FONT}`, align: 'center', verticalAlign: 'middle', textAlign: 'center', textVerticalAlign: 'middle' },
      },
      {
        type: 'text', x: 1217, y: 1829, z: 10,
        style: { text: FOOT_2, fill: '#2f2a27', font: `bold 24px ${FONT}`, align: 'center', verticalAlign: 'middle', textAlign: 'center', textVerticalAlign: 'middle' },
      },
    ],
  };
}

export default function App() {
  const ref = useRef<HTMLDivElement | null>(null);
  useEffect(() => {
    document.body.style.margin = '0';
    document.body.style.background = BG;
    if (!ref.current) return;
    const chart = echarts.init(ref.current, null, { renderer: 'svg' });
    chart.setOption(buildOption() as any);
    return () => chart.dispose();
  }, []);
  return <div ref={ref} style={{ width: 2434, height: 1881, background: BG }} />;
}
